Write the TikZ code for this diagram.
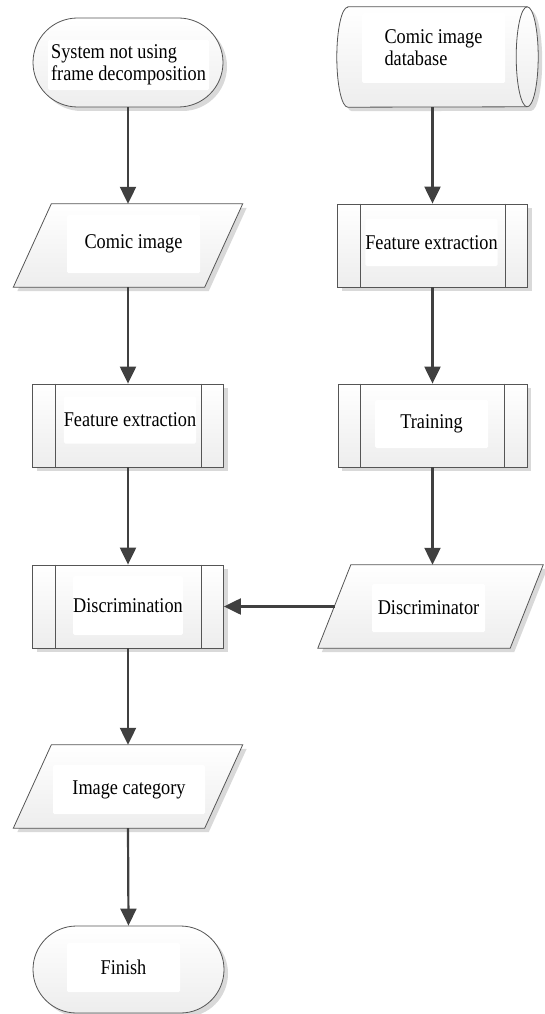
\documentclass[tikz,border=0pt]{standalone}
\usepackage{fontspec}
\setmainfont{Liberation Serif}
\newfontfamily\diagfont{Liberation Serif}[FakeStretch=0.87]
\usetikzlibrary{arrows.meta,calc,shapes.misc,shadows}
\definecolor{edgec}{HTML}{555555}
\definecolor{arrowc}{HTML}{404040}
\definecolor{shadowc}{HTML}{D9D9D9}
\newcommand\pplines[1]{%
  \draw[draw=edgec,line width=0.8pt]
    ($(#1.north west)+(23pt,0)$) -- ($(#1.south west)+(23pt,0)$)
    ($(#1.north east)+(-23pt,0)$) -- ($(#1.south east)+(-23pt,0)$);}
\newcommand\parashape[2]{%
  \path[boxfill] ($(#1.north west)+(#2,0)$) -- (#1.north east)
    -- ($(#1.south east)+(-#2,0)$) -- (#1.south west) -- cycle;}
\begin{document}
\begin{tikzpicture}[x=1pt,y=1pt,
  every node/.style={font=\diagfont\fontsize{21}{22}\selectfont},
  boxfill/.style={draw=edgec, line width=0.8pt, top color=white, bottom color=black!7,
     drop shadow={shadow xshift=4pt, shadow yshift=-4pt, fill=shadowc, opacity=1}},
  slot/.style 2 args={rectangle, draw=none, minimum width=#1, minimum height=#2, inner sep=0pt},
  ppbox/.style={rectangle, boxfill, minimum width=#1, minimum height=83pt, inner sep=0pt},
  termbox/.style 2 args={rounded rectangle, boxfill, minimum width=#1, minimum height=#2, inner sep=0pt},
  lbl/.style 2 args={fill=white, rounded corners=1.5pt, minimum width=#1, minimum height=#2, inner sep=0pt},
  flow/.style={draw=arrowc, line width=2.2pt, -{Triangle[length=17pt,width=16pt]}},
]
\useasboundingbox (0,0) rectangle (544,-1014);

% shapes
\node[termbox={190pt}{89pt}] (start) at (128,-62.5) {};
\node[slot={201pt}{100pt}] (db) at (437.5,-57) {};
\node[slot={229pt}{83pt}] (ci) at (128,-245.5) {};
\node[ppbox=190pt] (fe2) at (432.5,-245.5) {};
\node[ppbox=191pt] (fe1) at (128,-425.5) {};
\node[ppbox=189pt] (tr) at (432.5,-425.5) {};
\node[ppbox=191pt] (dn) at (128,-606.5) {};
\node[slot={225pt}{83pt}] (dr) at (430.5,-606.5) {};
\node[slot={229pt}{83pt}] (ic) at (128,-786.5) {};
\node[termbox={191pt}{87pt}] (fin) at (128.5,-969.5) {};

% database (horizontal cylinder)
\path[boxfill] ($(db.north west)+(11pt,0)$) -- ($(db.north east)+(-11pt,0)$)
  arc[start angle=90, end angle=-90, x radius=11pt, y radius=50pt]
  -- ($(db.south west)+(11pt,0)$)
  arc[start angle=270, end angle=90, x radius=11pt, y radius=50pt] -- cycle;
\draw[draw=edgec, line width=0.8pt] ($(db.north east)+(-11pt,0)$)
  arc[start angle=90, end angle=270, x radius=11pt, y radius=50pt];

% parallelograms
\parashape{ci}{38pt}
\parashape{dr}{33pt}
\parashape{ic}{38pt}

% predefined process side lines
\pplines{fe2}
\pplines{fe1}
\pplines{tr}
\pplines{dn}

% labels
\node[lbl={161pt}{50pt}, align=left] (start-t) at (128.5,-65) {System not using\\frame decomposition};
\node[lbl={143pt}{70pt}, align=left] (db-t) at (433.5,-48) {Comic image\\database};
\node[lbl={133pt}{58pt}] (ci-t) at (133.5,-244) {Comic image};
\node[lbl={113pt}{47pt}] (fe2-t) at (431.5,-242.5) {Feature extraction};
\node[lbl={113pt}{47pt}] (fe1-t) at (130,-420) {Feature extraction};
\node[lbl={113pt}{48pt}] (tr-t) at (431.5,-424) {Training};
\node[lbl={108pt}{59pt}] (dn-t) at (128,-605.5) {Discrimination};
\node[lbl={113pt}{48pt}] (dr-t) at (428.5,-608) {Discriminator};
\node[lbl={152pt}{49pt}] (ic-t) at (129,-789.5) {Image category};
\node[lbl={113pt}{49pt}] (fin-t) at (123.5,-967.5) {Finish};

% connectors
\draw[flow] (start.south) -- (ci.north);
\draw[flow] (fe2.north |- db.south) -- (fe2.north);
\draw[flow] (ci.south) -- (fe1.north);
\draw[flow] (fe2.south) -- (tr.north);
\draw[flow] (fe1.south) -- (dn.north);
\draw[flow] (tr.south) -- (tr.south |- dr.north);
\draw[flow] ($(dr.west)+(17pt,0)$) -- (dn.east);
\draw[flow] (dn.south) -- (ic.north);
\draw[flow] (ic.south) -- (fin.north);
\end{tikzpicture}
\end{document}
